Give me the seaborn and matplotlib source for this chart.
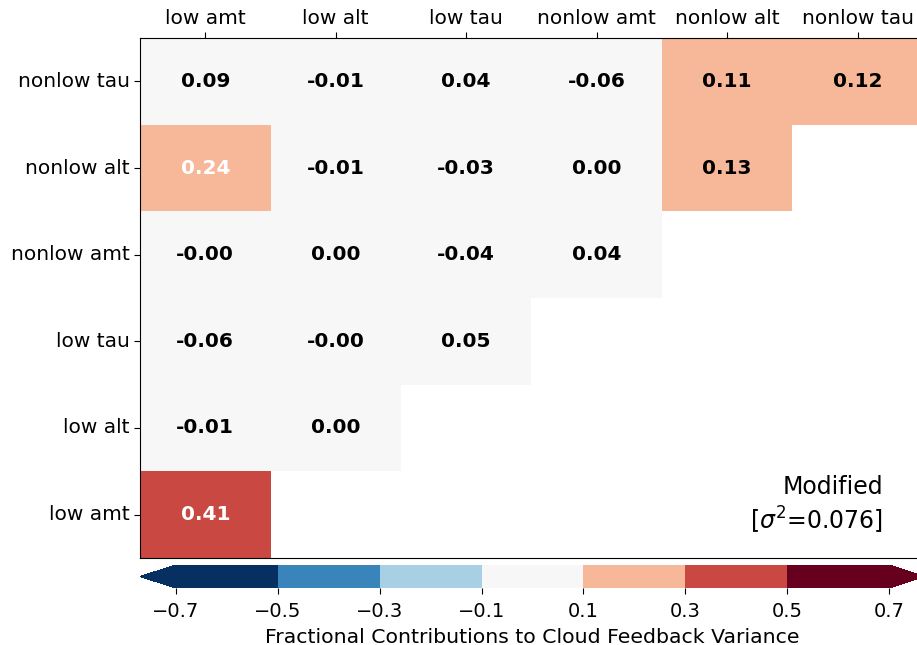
import numpy as np
import pandas as pd
import matplotlib
matplotlib.use("Agg")
import matplotlib.pyplot as plt
import seaborn as sns
from matplotlib.colors import BoundaryNorm

# Cloud feedback components (columns left→right, rows bottom→top)
components = ["low amt", "low alt", "low tau", "nonlow amt", "nonlow alt", "nonlow tau"]

# Fractional contributions to cloud feedback variance, one list per row
row_nonlow_tau = [0.09, -0.01, 0.04, -0.06, 0.11, 0.12]
row_nonlow_alt = [0.24, -0.01, -0.03, 0.00, 0.13]
row_nonlow_amt = [-0.002, 0.00, -0.04, 0.04]
row_low_tau = [-0.06, -0.002, 0.05]
row_low_alt = [-0.01, 0.00]
row_low_amt = [0.41]

total_variance = 0.076
levels = [-0.7, -0.5, -0.3, -0.1, 0.1, 0.3, 0.5, 0.7]

rows = [row_nonlow_tau, row_nonlow_alt, row_nonlow_amt,
        row_low_tau, row_low_alt, row_low_amt]
matrix = np.full((len(rows), len(components)), np.nan)
for i, r in enumerate(rows):
    matrix[i, :len(r)] = r
df = pd.DataFrame(matrix, index=components[::-1], columns=components)
mask = df.isna()

cmap = plt.get_cmap("RdBu_r", len(levels) - 1)
norm = BoundaryNorm(levels, ncolors=cmap.N)

W, H = 917, 645
fig = plt.figure(figsize=(W / 100, H / 100), dpi=100)
ax = fig.add_axes([140 / W, (H - 558) / H, 783 / W, 520 / H])
cax = fig.add_axes([140 / W, (H - 588) / H, 785 / W, 23 / H])

sns.heatmap(df, ax=ax, cmap=cmap, norm=norm, mask=mask,
            annot=True, fmt=".2f",
            annot_kws={"fontsize": 14.5, "fontweight": "bold"},
            cbar_ax=cax,
            cbar_kws={"orientation": "horizontal", "extend": "both",
                      "ticks": levels})

# Strong contributions get white labels
for t in ax.texts:
    try:
        v = float(t.get_text())
    except ValueError:
        continue
    t.set_color("white" if abs(v) >= 0.2 else "black")

for s in ax.spines.values():
    s.set_visible(True)
    s.set_color("black")
    s.set_linewidth(0.8)

ax.xaxis.tick_top()
ax.tick_params(axis="x", top=True, labeltop=True, bottom=False,
               labelbottom=False, labelsize=14.5, length=4)
ax.tick_params(axis="y", left=True, labelsize=14.5, length=4)
ax.set_yticklabels(ax.get_yticklabels(), rotation=0)
ax.set_xticklabels(ax.get_xticklabels(), rotation=0)
ax.set_xlabel("")
ax.set_ylabel("")

ax.text(0.949, 0.042, "Modified\n[$\\sigma^2$=" + f"{total_variance:.3f}]",
        transform=ax.transAxes, ha="right", va="bottom",
        multialignment="right", fontsize=17, linespacing=1.25)

cbar = ax.collections[0].colorbar
cbar.ax.tick_params(labelsize=14, length=4, pad=6)
cbar.set_label("Fractional Contributions to Cloud Feedback Variance",
               fontsize=14.7, labelpad=5)
cbar.outline.set_edgecolor("black")

fig.savefig("out.png", dpi=100)
